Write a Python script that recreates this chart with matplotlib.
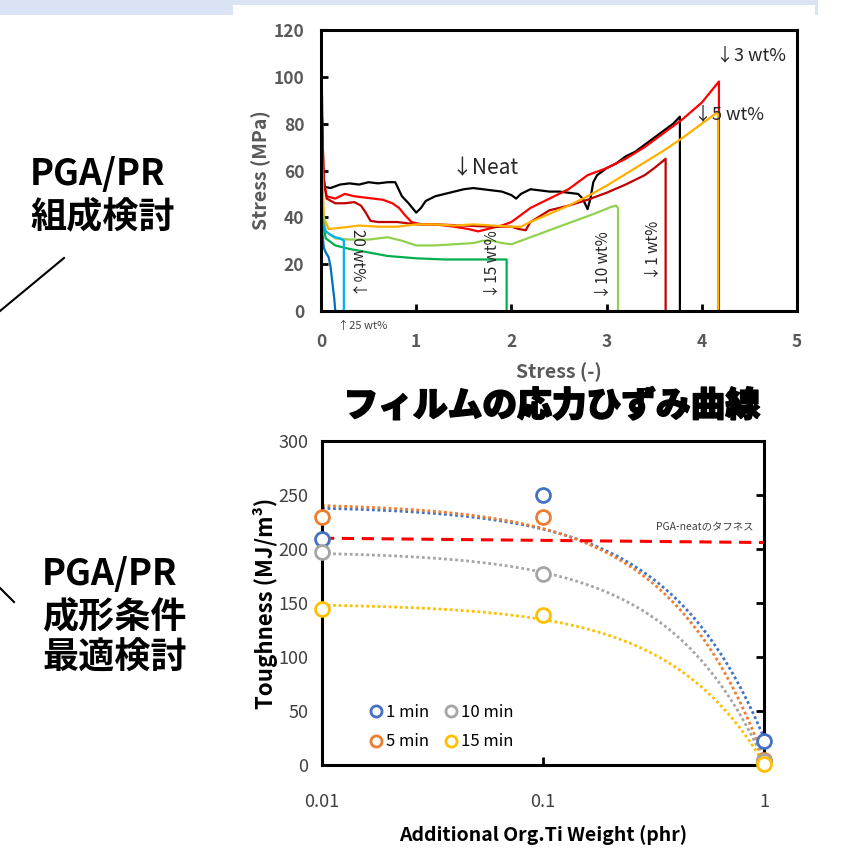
import numpy as np
import matplotlib
matplotlib.use('Agg')
import matplotlib.pyplot as plt
import matplotlib.patheffects as pe
from matplotlib.patches import Rectangle
from matplotlib.lines import Line2D
from matplotlib.ticker import FixedLocator, NullLocator, FixedFormatter

plt.rcParams['font.family'] = ['Noto Sans CJK JP', 'DejaVu Sans']

# ---- data: stress-strain curves (top chart) ----
neat_x = [0, 0.01, 0.02, 0.04, 0.1, 0.2, 0.3, 0.4, 0.5, 0.6, 0.7, 0.78, 0.85, 0.92, 1.0, 1.05, 1.1,
          1.2, 1.3, 1.4, 1.5, 1.6, 1.7, 1.8, 1.9, 2.0, 2.05, 2.1, 2.2, 2.3, 2.4, 2.5, 2.6, 2.7, 2.75,
          2.8, 2.83, 2.86, 2.9, 3.0, 3.1, 3.2, 3.3, 3.4, 3.5, 3.6, 3.7, 3.77, 3.77]
neat_y = [0, 92, 60, 53, 52.5, 54, 54.5, 54, 55, 54.5, 55, 55, 49, 46, 42, 44, 47,
          49, 50, 51, 52, 52.5, 52, 51.5, 51, 49.5, 48, 50, 52, 51.5, 51, 51, 50.5, 50, 48,
          43.5, 48, 55, 58, 61, 63, 66, 68, 71, 74, 77, 80, 83, 0]

wt3_x = [0, 0.01, 0.03, 0.06, 0.15, 0.25, 0.35, 0.45, 0.55, 0.65, 0.75, 0.82, 0.88, 0.95, 1.05, 1.2,
         1.4, 1.55, 1.65, 1.75, 1.9, 2.0, 2.1, 2.2, 2.4, 2.6, 2.8, 3.0, 3.2, 3.4, 3.6, 3.8, 4.0, 4.18, 4.18]
wt3_y = [0, 83, 55, 49, 48, 50, 49, 48.5, 48, 47.5, 46, 44, 41, 38, 37, 37,
         36, 35, 34, 35, 36.5, 38, 41, 44, 48, 52, 58, 61, 65, 70, 76, 82, 89, 98, 0]

wt1_x = [0, 0.01, 0.03, 0.06, 0.15, 0.25, 0.35, 0.42, 0.47, 0.52, 0.6, 0.8, 1.0, 1.2, 1.5, 1.8,
         2.0, 2.08, 2.15, 2.2, 2.4, 2.6, 2.8, 3.0, 3.2, 3.4, 3.5, 3.62, 3.62]
wt1_y = [0, 82, 55, 48, 46, 46, 46.5, 45, 42, 38.5, 38, 38, 37, 37, 36.5, 36,
         36, 35, 34.5, 38, 43, 45, 47.5, 50.5, 54, 58, 61, 65, 0]

wt5_x = [0, 0.01, 0.03, 0.08, 0.2, 0.4, 0.6, 0.8, 1.0, 1.2, 1.4, 1.6, 1.8, 2.0, 2.1, 2.2, 2.4,
         2.6, 2.8, 3.0, 3.2, 3.4, 3.6, 3.8, 4.0, 4.17, 4.17]
wt5_y = [0, 65, 40, 35, 35.5, 36.5, 36, 36, 37, 37, 36.5, 37, 36.5, 36, 36, 38, 41.5,
         45, 49, 53.5, 58.5, 63.5, 68.5, 74, 80, 85, 0]

wt10_x = [0, 0.01, 0.05, 0.15, 0.3, 0.5, 0.7, 0.85, 1.0, 1.2, 1.4, 1.6, 1.7, 1.8, 1.9, 2.0, 2.1,
          2.3, 2.5, 2.7, 2.9, 3.05, 3.1, 3.12, 3.12]
wt10_y = [0, 45, 34, 31, 30.5, 30.5, 31.5, 30, 28, 28, 28.5, 29, 30, 30, 29, 28.5, 30,
          33, 36, 39, 42, 44.5, 45, 44, 0]

wt15_x = [0, 0.01, 0.05, 0.15, 0.3, 0.5, 0.7, 1.0, 1.3, 1.6, 1.8, 1.95, 1.95]
wt15_y = [0, 40, 31, 28, 26.5, 25, 23.5, 22.5, 22, 22, 22, 22, 0]

wt20_x = [0, 0.01, 0.05, 0.1, 0.15, 0.2, 0.24, 0.24]
wt20_y = [0, 38, 34, 32.5, 31.5, 31, 30, 0]

wt25_x = [0, 0.01, 0.03, 0.05, 0.08, 0.1, 0.12, 0.14, 0.15]
wt25_y = [0, 35, 27, 25, 23, 19, 12, 5, 0]

# ---- data: toughness (bottom chart) ----
ti_weight = [0.01, 0.1, 1]
tough_1min = [209, 250, 22]
tough_5min = [230, 230, 5]
tough_10min = [197, 177, 4]
tough_15min = [144, 139, 1]
neat_line_x = [0.01, 1]
neat_line_y = [210, 206]

W, H = 861, 866


def box(l, t, r, b):
    return [l / W, 1 - b / H, (r - l) / W, (b - t) / H]


fig = plt.figure(figsize=(W / 100, H / 100), dpi=100)

# light blue band at the top with a white panel over it
fig.patches.append(Rectangle((0, 1 - 15 / H), 818 / W, 15 / H, transform=fig.transFigure,
                             facecolor='#dae3f3', edgecolor='none', zorder=0))
fig.patches.append(Rectangle((233 / W, 1 - 20 / H), (815 - 233) / W, 15 / H, transform=fig.transFigure,
                             facecolor='white', edgecolor='none', zorder=0))

# ---------- top chart ----------
ax1 = fig.add_axes(box(321, 30, 797, 311))
gray = '#595959'
curves = [
    (neat_x, neat_y, '#000000'),
    (wt3_x, wt3_y, '#ff0000'),
    (wt1_x, wt1_y, '#c00000'),
    (wt5_x, wt5_y, '#ffb000'),
    (wt10_x, wt10_y, '#92d050'),
    (wt15_x, wt15_y, '#00b050'),
    (wt20_x, wt20_y, '#00b0f0'),
    (wt25_x, wt25_y, '#0070c0'),
]
for xs, ys, c in curves:
    ax1.plot(xs, ys, color=c, lw=1.6)

ax1.set_xlim(0, 5)
ax1.set_ylim(0, 120)
ax1.set_xticks(range(0, 6))
ax1.set_yticks(range(0, 121, 20))
ax1.tick_params(direction='in', length=5, width=2, colors='black', labelcolor=gray,
                labelsize=12.5)
ax1.tick_params(axis='x', pad=16)
ax1.tick_params(axis='y', pad=12)
for lab in ax1.get_xticklabels() + ax1.get_yticklabels():
    lab.set_fontweight('bold')
for sp in ax1.spines.values():
    sp.set_linewidth(2.2)
ax1.set_ylabel('Stress (MPa)', fontsize=14, fontweight='bold', color=gray, labelpad=2)
ax1.set_xlabel('Stress (-)', fontsize=14, fontweight='bold', color=gray, labelpad=8)

ann = dict(color='#262626', fontsize=11)
ax1.text(1.72, 61, '↓Neat', ha='center', va='center', color='#262626', fontsize=15)
ax1.text(4.52, 109, '↓3 wt%', ha='center', va='center', color='#262626', fontsize=13)
ax1.text(4.29, 84, '↓5 wt%', ha='center', va='center', color='#262626', fontsize=13)
ax1.text(0.39, 20.5, '20 wt%↓', rotation=270, ha='center', va='center', **ann)
ax1.text(1.80, 20, '↓15 wt%', rotation=90, ha='center', va='center', **ann)
ax1.text(2.97, 19.7, '↓10 wt%', rotation=90, ha='center', va='center', **ann)
ax1.text(3.49, 26, '↓1 wt%', rotation=90, ha='center', va='center', **ann)
ax1.text(0.44, -6.4, '↑25 wt%', ha='center', va='center', color='#404040', fontsize=8,
         clip_on=False)

fig.text(552 / W, 1 - 406 / H, 'フィルムの応力ひずみ曲線', ha='center', va='center',
         fontsize=25, fontweight='heavy', color='black',
         path_effects=[pe.withStroke(linewidth=1.1, foreground='black')])

# ---------- bottom chart ----------
ax2 = fig.add_axes(box(322, 441, 764, 765))
ax2.set_xscale('log')
series = [
    ('1 min', tough_1min, '#4472c4'),
    ('5 min', tough_5min, '#ed7d31'),
    ('10 min', tough_10min, '#a5a5a5'),
    ('15 min', tough_15min, '#ffc000'),
]
xx = np.logspace(-2, 0, 300)
for lab, vals, c in series:
    k, b = np.polyfit(ti_weight, vals, 1)
    ax2.plot(xx, k * xx + b, ls=(0, (1, 1)), color=c, lw=2.0, zorder=2)
handles = []
for lab, vals, c in series:
    ax2.plot(ti_weight, vals, 'o', mfc='white', mec=c, mew=2, ms=10, clip_on=False, zorder=5)
    handles.append(Line2D([], [], marker='o', ls='none', mfc='none', mec=c, mew=2, ms=8))

ax2.plot(neat_line_x, neat_line_y, color='#ff0000', lw=2.2, ls=(0, (4, 2.5)), zorder=3)
ax2.text(0.9, 220, 'PGA-neatのタフネス', ha='right', va='center', fontsize=7.5, color='#404040')

ax2.set_xlim(0.01, 1)
ax2.set_ylim(0, 300)
ax2.xaxis.set_major_locator(FixedLocator([0.01, 0.1, 1]))
ax2.xaxis.set_major_formatter(FixedFormatter(['0.01', '0.1', '1']))
ax2.xaxis.set_minor_locator(NullLocator())
ax2.set_yticks(range(0, 301, 50))
ax2.yaxis.set_ticks_position('right')
ax2.tick_params(axis='y', direction='in', length=6, width=2, labelleft=True, labelright=False,
                pad=10, labelsize=13, labelcolor='#404040')
ax2.tick_params(axis='x', direction='in', length=6, width=2, pad=20, labelsize=13,
                labelcolor='#404040')
for sp in ax2.spines.values():
    sp.set_linewidth(2.2)
ax2.set_ylabel('Toughness (MJ/m³)', fontsize=16, fontweight='bold', labelpad=0)
ax2.set_xlabel('Additional Org.Ti Weight (phr)', fontsize=14, fontweight='bold', labelpad=10)
ax2.legend(handles, [s[0] for s in series], ncol=2, loc='upper left',
           bbox_to_anchor=(0.07, 0.235), frameon=False, fontsize=12, handletextpad=0.1,
           columnspacing=0.8, labelspacing=0.75, handlelength=1.0)

# ---------- left side notes ----------
note = dict(fontsize=26, fontweight='bold', color='black', ha='left', va='center')
fig.text(30 / W, 1 - 175 / H, 'PGA/PR', **note)
fig.text(30 / W, 1 - 217 / H, '組成検討', **note)
fig.text(42 / W, 1 - 575 / H, 'PGA/PR', **note)
fig.text(42 / W, 1 - 617 / H, '成形条件', **note)
fig.text(42 / W, 1 - 658 / H, '最適検討', **note)
fig.add_artist(Line2D([64 / W, 0], [1 - 258 / H, 1 - 311 / H], color='black', lw=1.5))
fig.add_artist(Line2D([0, 14 / W], [1 - 588 / H, 1 - 602 / H], color='black', lw=1.5))

fig.savefig('out.png', dpi=100)
